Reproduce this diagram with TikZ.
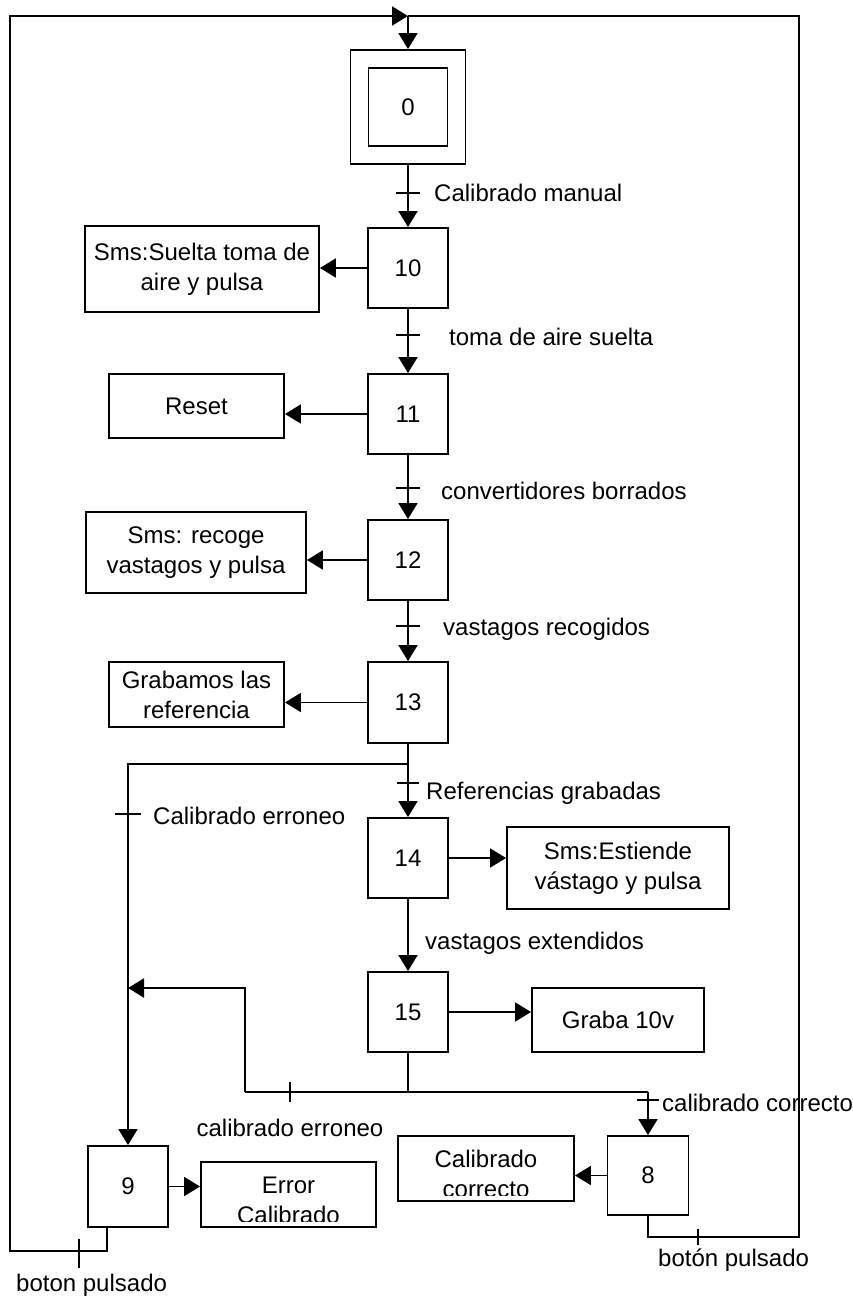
\documentclass[tikz,border=0pt]{standalone}
\usepackage{fontspec}
\setmainfont{Liberation Sans}
\usetikzlibrary{arrows.meta,calc}
\begin{document}
\begin{tikzpicture}[x=1pt,y=-1pt,
  every node/.style={font=\fontsize{24}{30}\selectfont},
  ln/.style={line width=1.9pt},
  arr/.style={line width=1.9pt,-{Triangle[length=16pt,width=19pt]}},
  stepbox/.style={draw,line width=1.9pt,minimum width=80pt,minimum height=80pt,inner sep=0pt},
  actbox/.style={draw,line width=1.9pt,inner sep=0pt,align=center},
  lbl/.style={anchor=west,inner sep=0pt},
  tick/.style={line width=1.9pt}
]
\useasboundingbox (0,0) rectangle (853,1298);

% steps
\node[stepbox,minimum width=115pt,minimum height=114pt] (s0o) at (408,107) {};
\node[stepbox,minimum width=79pt,minimum height=78pt] (s0) at (408,107) {0};
\node[stepbox] (s10) at (408,268) {10};
\node[stepbox] (s11) at (408,414) {11};
\node[stepbox] (s12) at (408,560) {12};
\node[stepbox,minimum height=81pt] (s13) at (408,702.5) {13};
\node[stepbox] (s14) at (408,858) {14};
\node[stepbox] (s15) at (408,1012) {15};
\node[stepbox,minimum width=81pt,minimum height=79pt] (s8) at (648,1175.5) {8};
\node[stepbox,minimum height=81pt] (s9) at (128,1186.5) {9};

% actions
\node[actbox,minimum width=234pt,minimum height=86pt] (a10) at (202,269) {Sms:Suelta toma de\\aire y pulsa};
\node[actbox,minimum width=175pt,minimum height=64pt] (a11) at (196.5,406) {Reset};
\node[actbox,minimum width=220pt,minimum height=81pt] (a12) at (196,552.5) {Sms: recoge\\vastagos y pulsa};
\node[actbox,minimum width=175pt,minimum height=65pt] (a13) at (196.5,694.5) {Grabamos las\\referencia};
\node[actbox,minimum width=222pt,minimum height=82pt] (a14) at (618,868) {Sms:Estiende\\vástago y pulsa};
\node[actbox,minimum width=172pt,minimum height=64pt] (a15) at (618,1020) {Graba 10v};
\node[actbox,minimum width=176pt,minimum height=65pt] (a8) at (486,1168.5) {};
\node[actbox,minimum width=175pt,minimum height=65pt] (a9) at (288.5,1194.5) {};
\begin{scope}
  \clip ($(a8.south west)+(1,-6)$) rectangle ($(a8.north east)+(-1,1)$);
  \node[align=center,inner sep=0pt] (t8) at ($(a8.center)+(0,5)$) {Calibrado\\correcto};
\end{scope}
\begin{scope}
  \clip ($(a9.south west)+(1,-6)$) rectangle ($(a9.north east)+(-1,1)$);
  \node[align=center,inner sep=0pt] (t9) at ($(a9.center)+(0,6)$) {Error\\Calibrado};
\end{scope}

% step -> action arrows
\draw[arr] (s10.west) -- (s10.west -| a10.east);
\draw[arr] (s11.west) -- (s11.west -| a11.east);
\draw[arr] (s12.west) -- (s12.west -| a12.east);
\draw[arr] (s13.west) -- (s13.west -| a13.east);
\draw[arr] (s14.east) -- (s14.east -| a14.west);
\draw[arr] (s15.east) -- (s15.east -| a15.west);
\draw[arr] (s8.west) -- (s8.west -| a8.east);
\draw[arr] (s9.east) -- (s9.east -| a9.west);

% main chain
\draw[arr] (s0o.south) -- (s10.north);
\draw[arr] (s10.south) -- (s11.north);
\draw[arr] (s11.south) -- (s12.north);
\draw[arr] (s12.south) -- (s13.north);
\coordinate (j13) at (408,764);
\draw[ln] (s13.south) -- (j13);
\draw[arr] (j13) -- (s14.north);
\draw[arr] (j13) -- (j13 -| s9.north) -- (s9.north);
\draw[arr] (s14.south) -- (s15.north);

% below 15
\coordinate (j15) at (408,1092);
\coordinate (jl) at (245,1092);
\coordinate (jr) at (648,1092);
\coordinate (jlt) at (245,988);
\draw[ln] (s15.south) -- (j15);
\draw[ln] (jl) -- (jr);
\draw[arr] (jr) -- (s8.north);
\draw[arr] (jl) -- (jlt) -- (jlt -| s9.north);

% return loops
\coordinate (tj) at (408,16);
\coordinate (tl) at (10,16);
\coordinate (tr) at (799,16);
\coordinate (b9) at (107,1251);
\coordinate (bl) at (10,1251);
\coordinate (b8) at (648,1237);
\coordinate (br) at (799,1237);
\draw[arr] (s9.south -| b9) -- (b9) -- (bl) -- (tl) -- (tj);
\draw[ln] (s8.south) -- (b8) -- (br) -- (tr) -- (tj);
\draw[arr] (tj) -- (s0o.north);

% transition ticks
\draw[tick] (396,193) -- (420,193);
\draw[tick] (396,335) -- (420,335);
\draw[tick] (396,488) -- (420,488);
\draw[tick] (396,626) -- (420,626);
\draw[tick] (397,783) -- (419,783);
\draw[tick] (115,814) -- (141,814);
\draw[tick] (290,1082) -- (290,1102);
\draw[tick] (637,1100) -- (659,1100);
\draw[tick] (79,1239) -- (79,1268);
\draw[tick] (698,1229) -- (698,1245);

% labels
\node[lbl] (l1) at (434,193) {Calibrado manual};
\node[lbl] (l2) at (449,337) {toma de aire suelta};
\node[lbl] (l3) at (441,491) {convertidores borrados};
\node[lbl] (l4) at (443,629) {vastagos recogidos};
\node[lbl] (l5) at (426,793) {Referencias grabadas};
\node[lbl] (l6) at (153,816) {Calibrado erroneo};
\node[lbl] (l7) at (425,943) {vastagos extendidos};
\node[inner sep=0pt] (l8) at (290,1128) {calibrado erroneo};
\node[lbl] (l9) at (662,1103) {calibrado correcto};
\node[lbl] (l10) at (16,1285) {boton pulsado};
\node[lbl] (l11) at (658,1260) {botón pulsado};
\end{tikzpicture}
\end{document}
